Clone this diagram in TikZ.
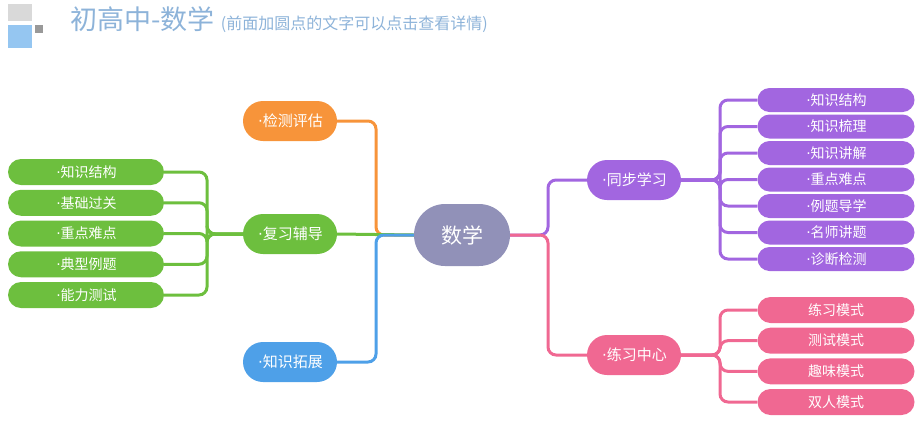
\documentclass[tikz,border=0pt]{standalone}
\usepackage{fontspec}
\setmainfont{Noto Sans CJK SC}
\newfontfamily\latf{DejaVu Sans}
\newcommand{\dt}{{\latf\kern1pt·}}
\usetikzlibrary{backgrounds}
\begin{document}
\begin{tikzpicture}[x=1pt,y=-1pt,
  box/.style={rounded corners=#1,text=white,inner sep=0pt,font=\fontsize{15}{17}\selectfont},
  ln/.style={line width=3pt,rounded corners=8pt}]
\definecolor{cc}{HTML}{9191B8}
\definecolor{co}{HTML}{F7943A}
\definecolor{cg}{HTML}{6DBF3E}
\definecolor{cb}{HTML}{4EA0E8}
\definecolor{cp}{HTML}{A266E0}
\definecolor{ck}{HTML}{F06892}
\definecolor{ct}{HTML}{8DB3D9}
\useasboundingbox (0,0) rectangle (924,421);
\fill[gray!30] (8,4) rectangle (32,21);
\fill[cb!60] (8,25) rectangle (32,48);
\fill[gray!80] (35,25) rectangle (43,33);
\node[anchor=base west,text=ct,inner sep=0pt,font=\fontsize{27}{29}\selectfont] (title) at (70,29) {初高中-数学};
\node[anchor=base west,text=ct,inner sep=0pt,font=\fontsize{16}{18}\selectfont] (sub) at ([xshift=6pt]title.base east) {(前面加圆点的文字可以点击查看详情)};
% main nodes
\node[box=31pt,fill=cc,minimum width=96,minimum height=62,font=\fontsize{21}{23}\selectfont] (c) at (462,235) {数学};
\node[box=20pt,fill=co,minimum width=94,minimum height=40] (a1) at (290,121) {\dt{}检测评估};
\node[box=20pt,fill=cg,minimum width=94,minimum height=40] (a2) at (290,234) {\dt{}复习辅导};
\node[box=20pt,fill=cb,minimum width=94,minimum height=40] (a3) at (290,362) {\dt{}知识拓展};
\node[box=20pt,fill=cp,minimum width=94,minimum height=40] (b1) at (634,180) {\dt{}同步学习};
\node[box=20pt,fill=ck,minimum width=94,minimum height=40] (b2) at (634,355) {\dt{}练习中心};
\begin{scope}[on background layer]
\draw[ln,co] (c.west) -- (376,235) -- (376,121) -- (a1.east);
\draw[ln,cg] (c.west) -- (a2.east);
\draw[ln,cb] (c.west) -- (376,235) -- (376,362) -- (a3.east);
\draw[ln,cp] (c.east) -- (548,235) -- (548,180) -- (b1.west);
\draw[ln,ck] (c.east) -- (548,235) -- (548,355) -- (b2.west);
\end{scope}
\foreach \t [count=\i] in {知识结构,基础过关,重点难点,典型例题,能力测试}{
  \pgfmathsetmacro\yy{172+30.75*(\i-1)}
  \node[box=13pt,fill=cg,minimum width=156,minimum height=26,font=\fontsize{14}{16}\selectfont] (l\i) at (86,\yy) {\dt{}\t};
  \begin{scope}[on background layer]
  \draw[ln,cg] (a2.west) -- (207,234) -- (207,\yy) -- (l\i.east);
  \end{scope}
}
\foreach \t [count=\i] in {知识结构,知识梳理,知识讲解,重点难点,例题导学,名师讲题,诊断检测}{
  \pgfmathsetmacro\yy{100+26.5*(\i-1)}
  \node[box=12pt,fill=cp,minimum width=157,minimum height=24,font=\fontsize{14}{16}\selectfont] (p\i) at (836,\yy) {\dt{}\t};
  \begin{scope}[on background layer]
  \draw[ln,cp] (b1.east) -- (720,180) -- (720,\yy) -- (p\i.west);
  \end{scope}
}
\foreach \t [count=\i] in {练习模式,测试模式,趣味模式,双人模式}{
  \pgfmathsetmacro\yy{310+30.67*(\i-1)}
  \node[box=13pt,fill=ck,minimum width=157,minimum height=26,font=\fontsize{14}{16}\selectfont] (k\i) at (836,\yy) {\t};
  \begin{scope}[on background layer]
  \draw[ln,ck] (b2.east) -- (720,355) -- (720,\yy) -- (k\i.west);
  \end{scope}
}
\end{tikzpicture}
\end{document}
